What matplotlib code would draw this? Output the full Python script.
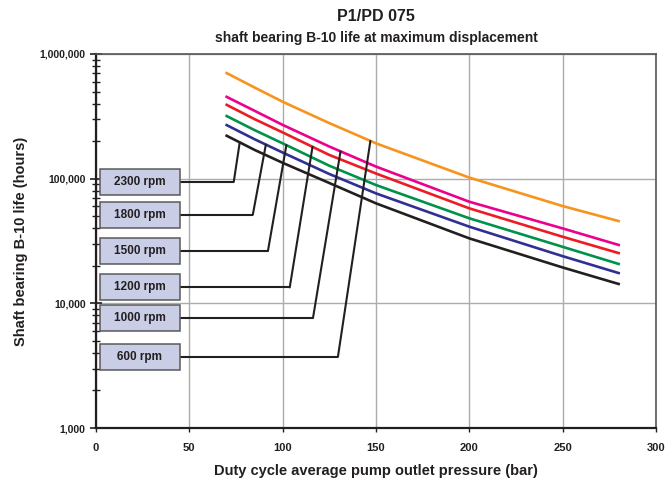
import numpy as np
import matplotlib
matplotlib.use("Agg")
import matplotlib.pyplot as plt
from matplotlib.patches import Rectangle
from matplotlib.ticker import FuncFormatter, LogLocator, NullFormatter

plt.rcParams["font.family"] = ["Liberation Sans", "DejaVu Sans"]
plt.rcParams["font.weight"] = "bold"

INK = "#231f20"
GRID = "#a9adb2"
BOX = "#c9cde6"

# duty-cycle pressure (bar) and B-10 life (hours) per shaft speed
PRESSURE = [70, 85, 100, 125, 150, 200, 250, 280]
LIFE_600 = [703000, 538000, 414000, 279000, 192000, 102000, 60300, 45700]
LIFE_1000 = [453000, 350000, 270000, 181000, 125000, 65300, 39900, 29400]
LIFE_1200 = [391000, 300000, 235000, 155000, 110000, 57800, 34200, 25300]
LIFE_1500 = [318000, 245000, 192000, 127000, 88900, 48100, 28400, 20700]
LIFE_1800 = [269000, 207000, 162000, 109000, 76200, 41200, 23900, 17500]
LIFE_2300 = [221000, 170000, 134000, 92300, 63400, 33200, 19400, 14300]

SPEEDS = ["2300 rpm", "1800 rpm", "1500 rpm", "1200 rpm", "1000 rpm", "600 rpm"]
SERIES = [LIFE_2300, LIFE_1800, LIFE_1500, LIFE_1200, LIFE_1000, LIFE_600]
COLORS = ["#231f20", "#2e3192", "#00924a", "#ed1c24", "#ec008c", "#f7941d"]
# pressure at which each label's leader meets its curve
LEADER_X = [77, 91, 102, 116, 131, 147]

fig = plt.figure(figsize=(6.68, 4.86), dpi=100)
ax = fig.add_axes([0.1437, 0.1193, 0.8383, 0.7696])

ax.set_yscale("log")
ax.set_xlim(0, 300)
ax.set_ylim(1000, 1000000)

for vals, col in zip(SERIES, COLORS):
    ax.plot(PRESSURE, vals, color=col, lw=1.9, zorder=3)

ax.set_xticks(np.arange(0, 301, 50))
ax.yaxis.set_major_locator(LogLocator(base=10, numticks=10))
ax.yaxis.set_minor_locator(LogLocator(base=10, subs=np.arange(2, 10), numticks=10))
ax.yaxis.set_minor_formatter(NullFormatter())
ax.yaxis.set_major_formatter(FuncFormatter(lambda v, _: f"{v:,.0f}"))
ax.grid(True, which="major", color=GRID, lw=1, zorder=0)

ax.tick_params(axis="y", which="major", direction="inout", length=9, width=1.2,
               labelsize=7.5, colors=INK, pad=3)
ax.tick_params(axis="y", which="minor", direction="inout", length=6, width=1, colors=INK)
ax.tick_params(axis="x", which="major", direction="out", length=3, width=1,
               labelsize=8, colors=INK, pad=8)
for lab in ax.get_xticklabels() + ax.get_yticklabels():
    lab.set_fontweight("bold")

for side in ("left", "bottom"):
    ax.spines[side].set_linewidth(1.6)
    ax.spines[side].set_color(INK)
for side in ("right", "top"):
    ax.spines[side].set_linewidth(1.2)
    ax.spines[side].set_color("#555555")

# speed labels in boxes, each with a leader to its curve
box_y = [0.658, 0.570, 0.473, 0.376, 0.294, 0.190]
kink_x = [0.246, 0.280, 0.307, 0.346, 0.3875, 0.432]
bx0, bw, bh = 0.007, 0.143, 0.07
for name, vals, yc, kx, tx in zip(SPEEDS, SERIES, box_y, kink_x, LEADER_X):
    ax.add_patch(Rectangle((bx0, yc - bh / 2), bw, bh, transform=ax.transAxes,
                           facecolor=BOX, edgecolor="#5a5a5a", lw=1.1, zorder=5,
                           clip_on=False))
    ax.text(bx0 + bw / 2, yc, name, transform=ax.transAxes, ha="center", va="center",
            fontsize=8.5, fontweight="bold", color=INK, zorder=6)
    ax.plot([bx0 + bw, kx], [yc, yc], transform=ax.transAxes, color=INK, lw=1.5,
            zorder=4, solid_capstyle="butt")
    ty = 10 ** np.interp(tx, PRESSURE, np.log10(vals))
    ax.annotate("", xy=(tx, ty), xycoords="data", xytext=(kx, yc),
                textcoords="axes fraction",
                arrowprops=dict(arrowstyle="-", color=INK, lw=1.5,
                                shrinkA=0, shrinkB=0), zorder=4)

fig.text(0.563, 0.967, "P1/PD 075", ha="center", va="center", fontsize=11.5,
         fontweight="bold", color=INK)
fig.text(0.563, 0.922, "shaft bearing B-10 life at maximum displacement", ha="center",
         va="center", fontsize=10, fontweight="bold", color=INK)
ax.set_xlabel("Duty cycle average pump outlet pressure (bar)", fontsize=10.5,
              fontweight="bold", color=INK, labelpad=8)
ax.set_ylabel("Shaft bearing B-10 life (hours)", fontsize=10.5, fontweight="bold",
              color=INK, labelpad=8)

fig.savefig("out.png", dpi=100, facecolor="white")
